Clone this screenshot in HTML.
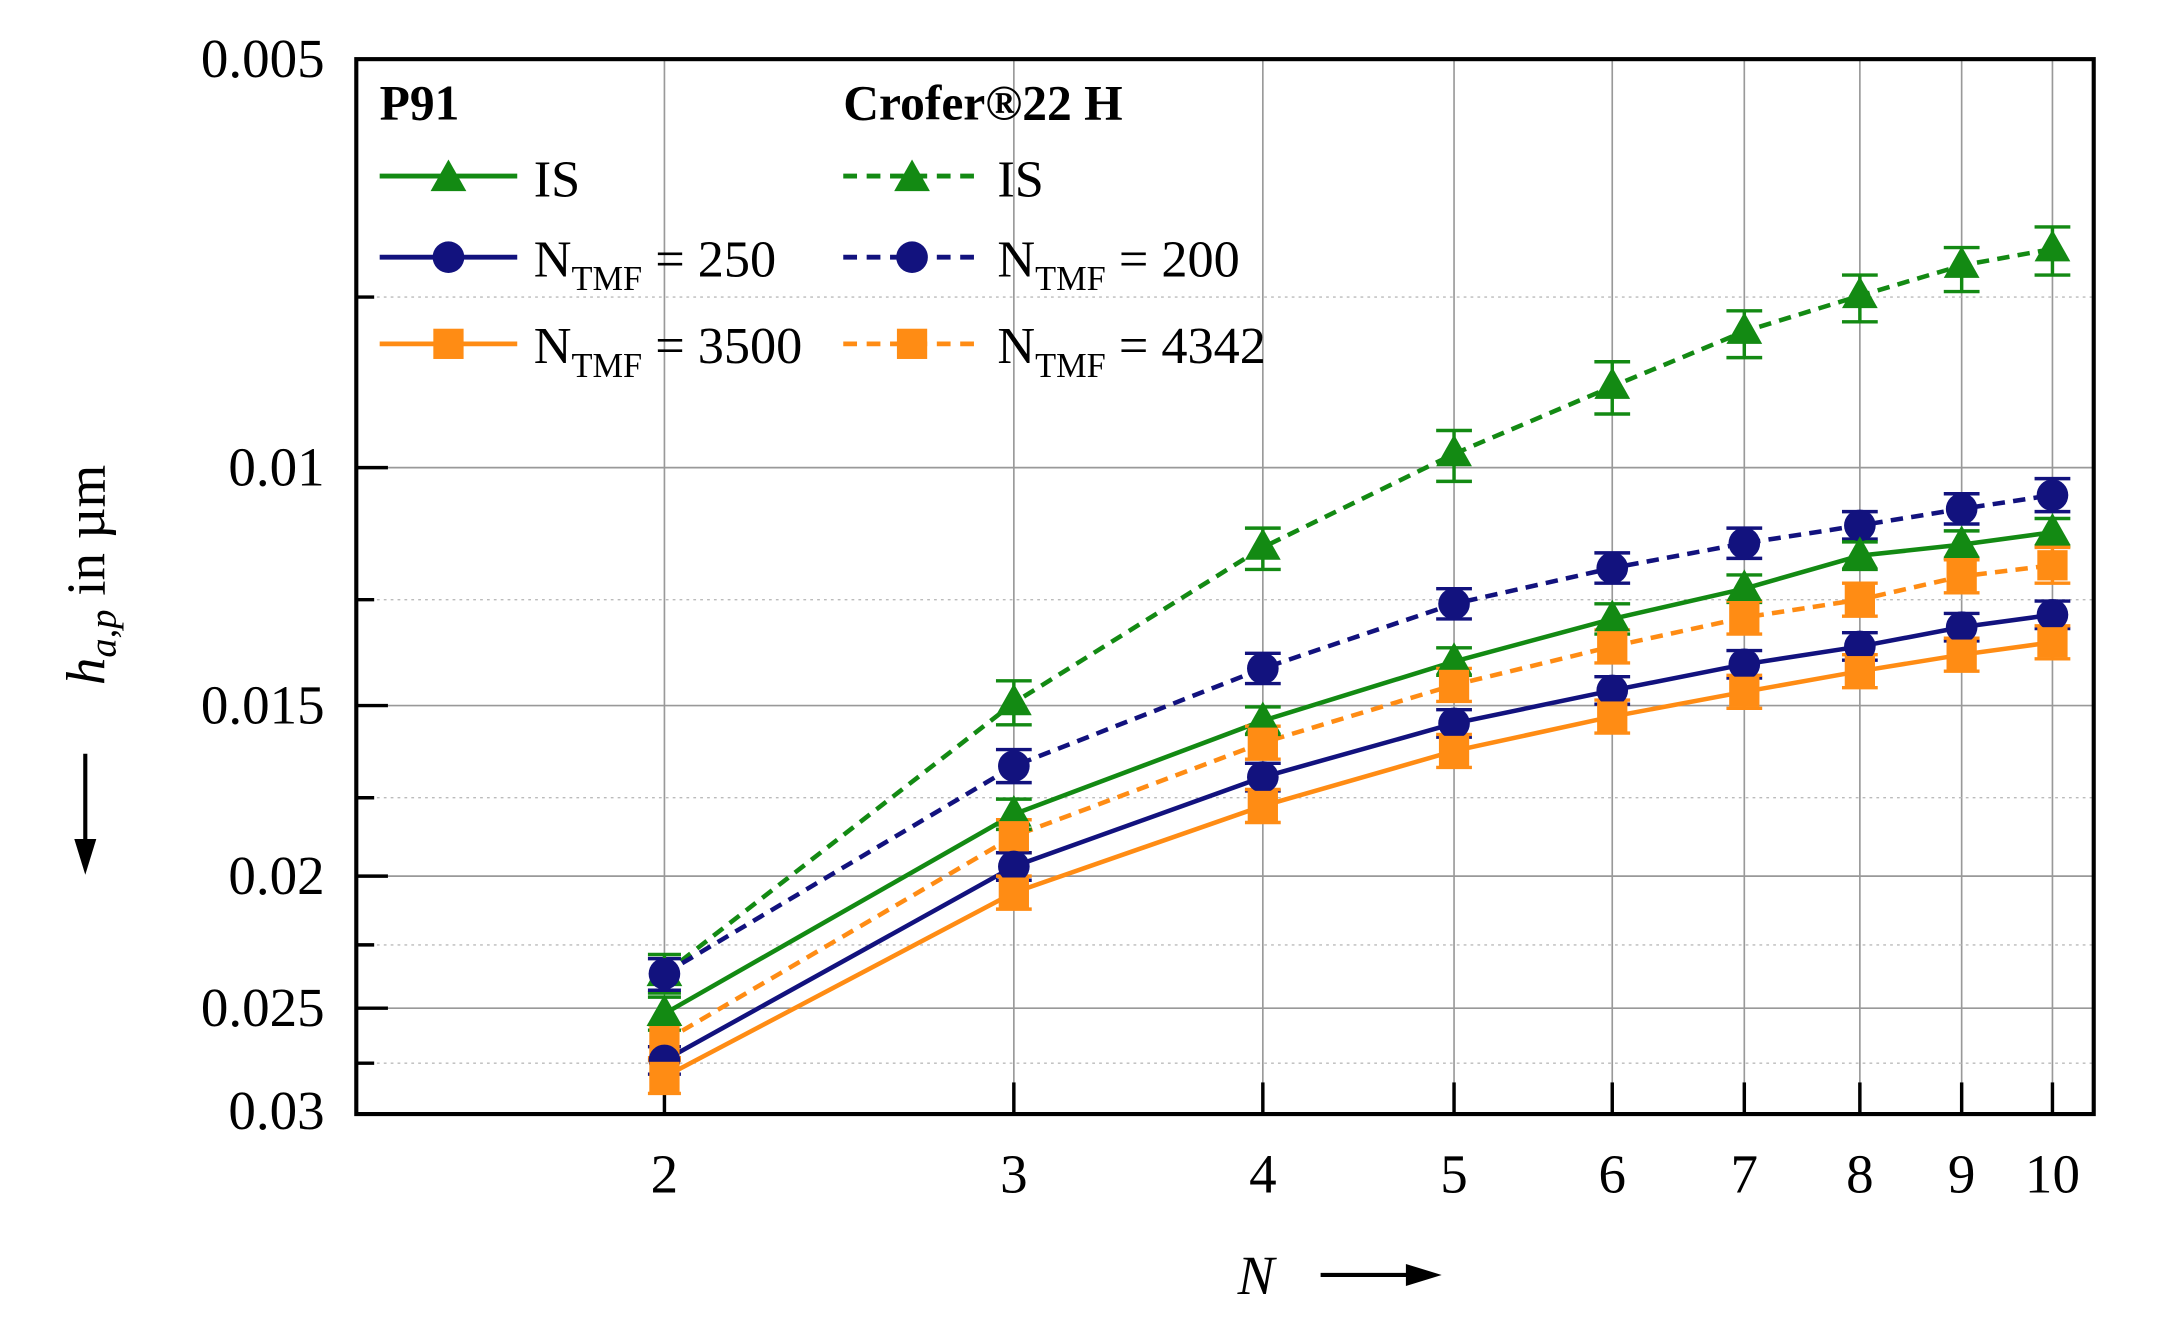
<!DOCTYPE html>
<html><head><meta charset="utf-8"><style>html,body{margin:0;padding:0;background:#fff}svg{display:block}</style></head><body>
<svg width="2157" height="1341" viewBox="0 0 1568 975" preserveAspectRatio="none" xmlns="http://www.w3.org/2000/svg" font-family="Liberation Serif, serif">
<defs>
<g id="tri"><polygon points="0,-14 13,9 -13,9"/></g>
<g id="cir"><circle r="11.5"/></g>
<g id="sq"><rect x="-11" y="-11" width="22" height="22"/></g>
</defs>
<g stroke="#999" stroke-width="1.2">
<line x1="483" y1="43" x2="483" y2="810"/><line x1="737" y1="43" x2="737" y2="810"/><line x1="918" y1="43" x2="918" y2="810"/><line x1="1057" y1="43" x2="1057" y2="810"/><line x1="1172" y1="43" x2="1172" y2="810"/><line x1="1268" y1="43" x2="1268" y2="810"/><line x1="1352" y1="43" x2="1352" y2="810"/><line x1="1426" y1="43" x2="1426" y2="810"/><line x1="1492" y1="43" x2="1492" y2="810"/>
<line x1="259" y1="340" x2="1522" y2="340"/><line x1="259" y1="513" x2="1522" y2="513"/><line x1="259" y1="637" x2="1522" y2="637"/><line x1="259" y1="733" x2="1522" y2="733"/>
</g>
<g stroke="#bbb" stroke-width="1" stroke-dasharray="2,3">
<line x1="259" y1="216" x2="1522" y2="216"/><line x1="259" y1="436" x2="1522" y2="436"/><line x1="259" y1="580" x2="1522" y2="580"/><line x1="259" y1="687" x2="1522" y2="687"/><line x1="259" y1="773" x2="1522" y2="773"/>
</g>
<rect x="259" y="43" width="1263" height="767" fill="none" stroke="#000" stroke-width="3"/>
<g stroke="#000" stroke-width="2.5">
<line x1="259" y1="340" x2="282" y2="340"/><line x1="259" y1="513" x2="282" y2="513"/><line x1="259" y1="637" x2="282" y2="637"/><line x1="259" y1="733" x2="282" y2="733"/>
<line x1="259" y1="216" x2="272" y2="216"/><line x1="259" y1="436" x2="272" y2="436"/><line x1="259" y1="580" x2="272" y2="580"/><line x1="259" y1="687" x2="272" y2="687"/><line x1="259" y1="773" x2="272" y2="773"/>
<line x1="483" y1="810" x2="483" y2="787"/><line x1="737" y1="810" x2="737" y2="787"/><line x1="918" y1="810" x2="918" y2="787"/><line x1="1057" y1="810" x2="1057" y2="787"/><line x1="1172" y1="810" x2="1172" y2="787"/><line x1="1268" y1="810" x2="1268" y2="787"/><line x1="1352" y1="810" x2="1352" y2="787"/><line x1="1426" y1="810" x2="1426" y2="787"/><line x1="1492" y1="810" x2="1492" y2="787"/>
</g>
<g font-size="40" text-anchor="end" fill="#000">
<text x="236" y="56">0.005</text><text x="236" y="353">0.01</text><text x="236" y="526">0.015</text><text x="236" y="650">0.02</text><text x="236" y="746">0.025</text><text x="236" y="821">0.03</text>
</g>
<g font-size="40" text-anchor="middle">
<text x="483" y="867">2</text><text x="737" y="867">3</text><text x="918" y="867">4</text><text x="1057" y="867">5</text><text x="1172" y="867">6</text><text x="1268" y="867">7</text><text x="1352" y="867">8</text><text x="1426" y="867">9</text><text x="1492" y="867">10</text>
</g>
<text x="913" y="941" font-size="40" font-style="italic" text-anchor="middle">N</text>
<line x1="960" y1="927" x2="1030" y2="927" stroke="#000" stroke-width="3"/><polygon points="1048,927 1022,919 1022,935" fill="#000"/>
<text transform="translate(76,418) rotate(-90)" font-size="40" text-anchor="middle"><tspan font-style="italic">h</tspan><tspan font-style="italic" font-size="28" dy="8">a,p</tspan><tspan dy="-8"> in µm</tspan></text>
<line x1="62" y1="548" x2="62" y2="618" stroke="#000" stroke-width="3"/><polygon points="62,636 54,610 70,610" fill="#000"/>
<g fill="none" stroke-width="3.3">
<polyline stroke="#138a13" stroke-dasharray="9,6" points="483,708 737,511 918,398 1057,330 1172,281 1268,241 1352,215 1426,193 1492,181"/>
<polyline stroke="#12127e" stroke-dasharray="9,6" points="483,708 737,557 918,486 1057,439 1172,413 1268,395 1352,382 1426,370 1492,360"/>
<polyline stroke="#138a13" points="483,737 737,592 918,524 1057,481 1172,450 1268,428 1352,404 1426,396 1492,387"/>
<polyline stroke="#ff8c14" stroke-dasharray="9,6" points="483,757 737,608 918,540 1057,498 1172,470 1268,449 1352,436 1426,419 1492,411"/>
<polyline stroke="#12127e" points="483,771 737,630 918,565 1057,526 1172,502 1268,483 1352,470 1426,456 1492,447"/>
<polyline stroke="#ff8c14" points="483,783 737,649 918,586 1057,546 1172,521 1268,503 1352,488 1426,476 1492,467"/>
</g>
<g stroke-width="2.5" fill="none">
<path stroke="#138a13" d="M483,694V722M471,694H495M471,722H495 M737,495V527M724,495H750M724,527H750 M918,384V414M905,384H931M905,414H931 M1057,313V350M1044,313H1070M1044,350H1070 M1172,263V301M1159,263H1185M1159,301H1185 M1268,226V260M1255,226H1281M1255,260H1281 M1352,200V234M1339,200H1365M1339,234H1365 M1426,180V212M1413,180H1439M1413,212H1439 M1492,165V200M1479,165H1505M1479,200H1505"/>
<path stroke="#12127e" d="M483,697V720M471,697H495M471,720H495 M737,545V569M724,545H750M724,569H750 M918,475V497M905,475H931M905,497H931 M1057,428V450M1044,428H1070M1044,450H1070 M1172,402V424M1159,402H1185M1159,424H1185 M1268,384V406M1255,384H1281M1255,406H1281 M1352,372V392M1339,372H1365M1339,392H1365 M1426,359V381M1413,359H1439M1413,381H1439 M1492,348V372M1479,348H1505M1479,372H1505"/>
<path stroke="#138a13" d="M483,725V749M471,725H495M471,749H495 M737,581V603M724,581H750M724,603H750 M918,514V534M905,514H931M905,534H931 M1057,471V491M1044,471H1070M1044,491H1070 M1172,439V461M1159,439H1185M1159,461H1185 M1268,418V438M1255,418H1281M1255,438H1281 M1352,394V414M1339,394H1365M1339,414H1365 M1426,386V406M1413,386H1439M1413,406H1439 M1492,377V397M1479,377H1505M1479,397H1505"/>
<path stroke="#ff8c14" d="M483,745V769M471,745H495M471,769H495 M737,596V620M724,596H750M724,620H750 M918,528V552M905,528H931M905,552H931 M1057,486V510M1044,486H1070M1044,510H1070 M1172,458V482M1159,458H1185M1159,482H1185 M1268,437V461M1255,437H1281M1255,461H1281 M1352,424V448M1339,424H1365M1339,448H1365 M1426,407V431M1413,407H1439M1413,431H1439 M1492,398V424M1479,398H1505M1479,424H1505"/>
<path stroke="#12127e" d="M483,761V781M471,761H495M471,781H495 M737,620V640M724,620H750M724,640H750 M918,555V575M905,555H931M905,575H931 M1057,516V536M1044,516H1070M1044,536H1070 M1172,492V512M1159,492H1185M1159,512H1185 M1268,473V493M1255,473H1281M1255,493H1281 M1352,460V480M1339,460H1365M1339,480H1365 M1426,446V466M1413,446H1439M1413,466H1439 M1492,437V457M1479,437H1505M1479,457H1505"/>
<path stroke="#ff8c14" d="M483,771V795M471,771H495M471,795H495 M737,637V661M724,637H750M724,661H750 M918,574V598M905,574H931M905,598H931 M1057,534V558M1044,534H1070M1044,558H1070 M1172,509V533M1159,509H1185M1159,533H1185 M1268,491V515M1255,491H1281M1255,515H1281 M1352,476V500M1339,476H1365M1339,500H1365 M1426,464V488M1413,464H1439M1413,488H1439 M1492,455V479M1479,455H1505M1479,479H1505"/>
</g>
<g fill="#138a13">
<use href="#tri" x="483" y="708"/><use href="#tri" x="737" y="511"/><use href="#tri" x="918" y="398"/><use href="#tri" x="1057" y="330"/><use href="#tri" x="1172" y="281"/><use href="#tri" x="1268" y="241"/><use href="#tri" x="1352" y="215"/><use href="#tri" x="1426" y="193"/><use href="#tri" x="1492" y="181"/>
</g>
<g fill="#12127e">
<use href="#cir" x="483" y="708"/><use href="#cir" x="737" y="557"/><use href="#cir" x="918" y="486"/><use href="#cir" x="1057" y="439"/><use href="#cir" x="1172" y="413"/><use href="#cir" x="1268" y="395"/><use href="#cir" x="1352" y="382"/><use href="#cir" x="1426" y="370"/><use href="#cir" x="1492" y="360"/>
</g>
<g fill="#138a13">
<use href="#tri" x="483" y="737"/><use href="#tri" x="737" y="592"/><use href="#tri" x="918" y="524"/><use href="#tri" x="1057" y="481"/><use href="#tri" x="1172" y="450"/><use href="#tri" x="1268" y="428"/><use href="#tri" x="1352" y="404"/><use href="#tri" x="1426" y="396"/><use href="#tri" x="1492" y="387"/>
</g>
<g fill="#ff8c14">
<use href="#sq" x="483" y="757"/><use href="#sq" x="737" y="608"/><use href="#sq" x="918" y="540"/><use href="#sq" x="1057" y="498"/><use href="#sq" x="1172" y="470"/><use href="#sq" x="1268" y="449"/><use href="#sq" x="1352" y="436"/><use href="#sq" x="1426" y="419"/><use href="#sq" x="1492" y="411"/>
</g>
<g fill="#12127e">
<use href="#cir" x="483" y="771"/><use href="#cir" x="737" y="630"/><use href="#cir" x="918" y="565"/><use href="#cir" x="1057" y="526"/><use href="#cir" x="1172" y="502"/><use href="#cir" x="1268" y="483"/><use href="#cir" x="1352" y="470"/><use href="#cir" x="1426" y="456"/><use href="#cir" x="1492" y="447"/>
</g>
<g fill="#ff8c14">
<use href="#sq" x="483" y="783"/><use href="#sq" x="737" y="649"/><use href="#sq" x="918" y="586"/><use href="#sq" x="1057" y="546"/><use href="#sq" x="1172" y="521"/><use href="#sq" x="1268" y="503"/><use href="#sq" x="1352" y="488"/><use href="#sq" x="1426" y="476"/><use href="#sq" x="1492" y="467"/>
</g>
<g font-size="36" font-weight="bold"><text x="276" y="87">P91</text><text x="613" y="87">Crofer®22 H</text></g>
<g stroke-width="3.5">
<line x1="276" y1="128" x2="376" y2="128" stroke="#138a13"/>
<line x1="276" y1="187" x2="376" y2="187" stroke="#12127e"/>
<line x1="276" y1="250" x2="376" y2="250" stroke="#ff8c14"/>
<line x1="613" y1="128" x2="713" y2="128" stroke="#138a13" stroke-dasharray="10,7"/>
<line x1="613" y1="187" x2="713" y2="187" stroke="#12127e" stroke-dasharray="10,7"/>
<line x1="613" y1="250" x2="713" y2="250" stroke="#ff8c14" stroke-dasharray="10,7"/>
</g>
<use href="#tri" x="326" y="130" fill="#138a13"/><use href="#cir" x="326" y="187" fill="#12127e"/><use href="#sq" x="326" y="250" fill="#ff8c14"/>
<use href="#tri" x="663" y="130" fill="#138a13"/><use href="#cir" x="663" y="187" fill="#12127e"/><use href="#sq" x="663" y="250" fill="#ff8c14"/>
<g font-size="38">
<text x="388" y="143">IS</text>
<text x="388" y="201">N<tspan font-size="25" dy="10">TMF</tspan><tspan dy="-10"> = 250</tspan></text>
<text x="388" y="264">N<tspan font-size="25" dy="10">TMF</tspan><tspan dy="-10"> = 3500</tspan></text>
<text x="725" y="143">IS</text>
<text x="725" y="201">N<tspan font-size="25" dy="10">TMF</tspan><tspan dy="-10"> = 200</tspan></text>
<text x="725" y="264">N<tspan font-size="25" dy="10">TMF</tspan><tspan dy="-10"> = 4342</tspan></text>
</g>
</svg>
</body></html>
